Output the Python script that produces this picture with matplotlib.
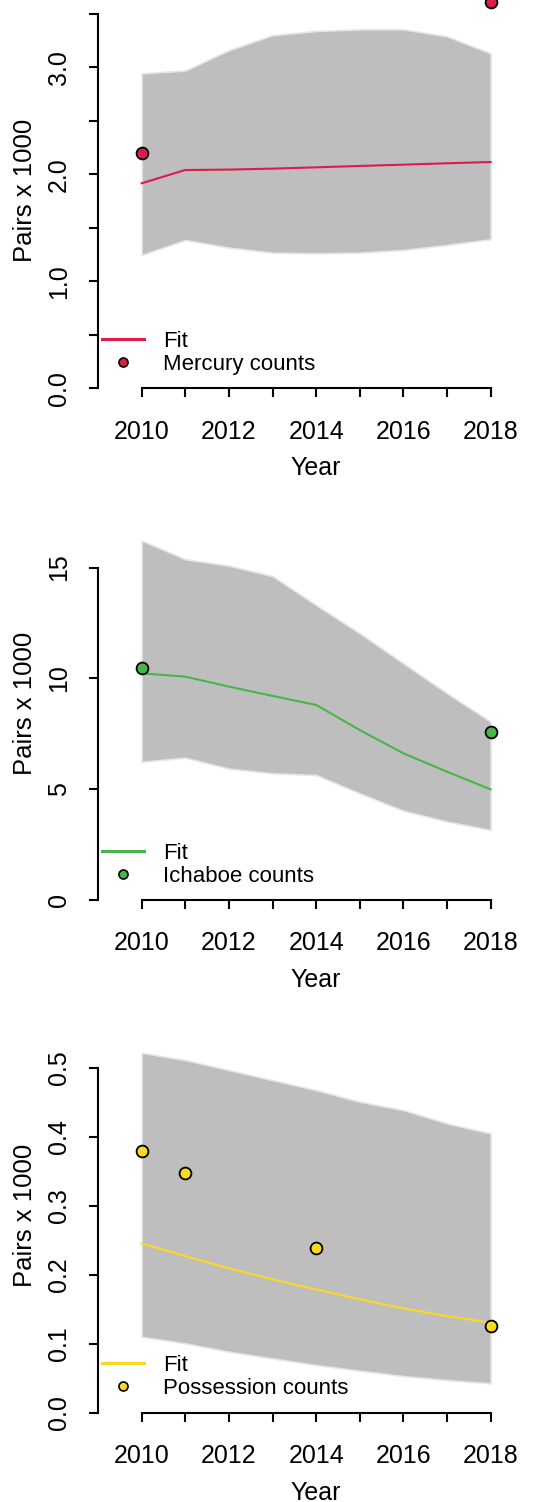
import matplotlib
matplotlib.use("Agg")
import matplotlib.pyplot as plt
from matplotlib.lines import Line2D

plt.rcParams["font.family"] = ["Liberation Sans", "DejaVu Sans"]

# Model years
years = [2010, 2011, 2012, 2013, 2014, 2015, 2016, 2017, 2018]

# Mercury
mercury_fit = [1.916, 2.040, 2.044, 2.053, 2.065, 2.078, 2.090, 2.103, 2.115]
mercury_lo = [1.246, 1.386, 1.315, 1.268, 1.262, 1.268, 1.293, 1.340, 1.393]
mercury_hi = [2.944, 2.970, 3.160, 3.300, 3.340, 3.355, 3.355, 3.290, 3.130]
mercury_count_years = [2010, 2018]
mercury_counts = [2.196, 3.61]

# Ichaboe
ichaboe_fit = [10.23, 10.08, 9.63, 9.21, 8.80, 7.67, 6.62, 5.79, 4.99]
ichaboe_lo = [6.24, 6.42, 5.93, 5.72, 5.64, 4.81, 4.03, 3.54, 3.16]
ichaboe_hi = [16.22, 15.38, 15.09, 14.62, 13.31, 12.04, 10.68, 9.33, 8.05]
ichaboe_count_years = [2010, 2018]
ichaboe_counts = [10.46, 7.60]

# Possession
possession_fit = [0.2454, 0.227, 0.2092, 0.1932, 0.1787, 0.1643, 0.1512, 0.140, 0.1304]
possession_lo = [0.110, 0.1005, 0.0884, 0.0787, 0.0691, 0.0609, 0.0531, 0.0473, 0.0425]
possession_hi = [0.5217, 0.511, 0.4966, 0.482, 0.4676, 0.4507, 0.4386, 0.4193, 0.4048]
possession_count_years = [2010, 2011, 2014, 2018]
possession_counts = [0.379, 0.348, 0.238, 0.1256]

W, H = 551, 1502
FS = 18
YLABEL_FS = 18.5
LEGEND_FS = 16
BAND_COLOUR = "#BEBEBE"


def draw_panel(fig, bottom_px, px_per_unit, ytop, yticks, ylabels, fit, lo, hi,
               count_years, counts, colour, site, ylabel_px, legend_px):
    left_px = 98
    px_per_year = 43.625
    xlim = (2009, 2019)
    width_px = (xlim[1] - xlim[0]) * px_per_year
    height_px = ytop * px_per_unit
    ax = fig.add_axes([left_px / W, (H - bottom_px) / H, width_px / W, height_px / H])
    ax.set_xlim(*xlim)
    ax.set_ylim(0, ytop)
    ax.patch.set_visible(False)

    # Confidence band, fitted trend and the observed counts
    ax.fill_between(years, lo, hi, facecolor=BAND_COLOUR, edgecolor="#E6E6E6", linewidth=1.2, zorder=1)
    ax.plot(years, fit, color=colour, linewidth=1.5, zorder=2)
    ax.plot(count_years, counts, "o", markersize=8.5, markerfacecolor=colour,
            markeredgecolor="black", markeredgewidth=1.3, clip_on=False, zorder=3)

    # R-style axes: lines only span the tick range
    for side in ["top", "right"]:
        ax.spines[side].set_visible(False)
    for side in ["left", "bottom"]:
        ax.spines[side].set_linewidth(1.5)
    ax.spines["left"].set_bounds(yticks[0], yticks[-1])
    ax.spines["bottom"].set_bounds(years[0], years[-1])

    ax.set_xticks(years)
    ax.set_xticklabels([str(y) if y % 2 == 0 else "" for y in years])
    ax.set_yticks(yticks)
    ax.set_yticklabels(ylabels)
    ax.tick_params(axis="both", length=6.5, width=1.5, labelsize=FS)
    ax.tick_params(axis="x", pad=16)
    ax.tick_params(axis="y", pad=13)
    for lab in ax.get_yticklabels():
        lab.set_rotation(90)
        lab.set_va("center")
        lab.set_ha("right")

    ax.set_xlabel("Year", fontsize=FS, va="baseline", ha="center")
    ax.xaxis.set_label_coords((315.8 - left_px) / width_px, -87 / height_px)
    ax.set_ylabel("Pairs x 1000", fontsize=YLABEL_FS, va="center", ha="center", rotation=90)
    ax.yaxis.set_label_coords((25 - left_px) / width_px, (bottom_px - ylabel_px) / height_px)

    handles = [
        Line2D([], [], color=colour, linewidth=2.2),
        Line2D([], [], linestyle="none", marker="o", markersize=6.5,
               markerfacecolor=colour, markeredgecolor="black", markeredgewidth=1.2),
    ]
    ax.legend(handles, ["Fit", site + " counts"], loc="center left",
              bbox_to_anchor=(102 / W, (H - legend_px) / H), bbox_transform=fig.transFigure,
              frameon=False, fontsize=LEGEND_FS, handlelength=1.9, handletextpad=0.85,
              borderpad=0, borderaxespad=0, labelspacing=0.1)
    return ax


fig = plt.figure(figsize=(W / 100, H / 100), dpi=100)

draw_panel(fig, 388.3, 107.0, 3.75, [0, 0.5, 1, 1.5, 2, 2.5, 3, 3.5],
           ["0.0", "", "1.0", "", "2.0", "", "3.0", ""],
           mercury_fit, mercury_lo, mercury_hi, mercury_count_years, mercury_counts,
           "#DC1C4B", "Mercury", 190.8, 352.9)

draw_panel(fig, 900.0, 22.16, 17, [0, 5, 10, 15], ["0", "5", "10", "15"],
           ichaboe_fit, ichaboe_lo, ichaboe_hi, ichaboe_count_years, ichaboe_counts,
           "#47B649", "Ichaboe", 703.0, 864.8)

draw_panel(fig, 1412.7, 690.0, 0.55, [0, 0.1, 0.2, 0.3, 0.4, 0.5],
           ["0.0", "0.1", "0.2", "0.3", "0.4", "0.5"],
           possession_fit, possession_lo, possession_hi, possession_count_years, possession_counts,
           "#FCD823", "Possession", 1215.0, 1377.0)

fig.savefig("out.png", dpi=100)
